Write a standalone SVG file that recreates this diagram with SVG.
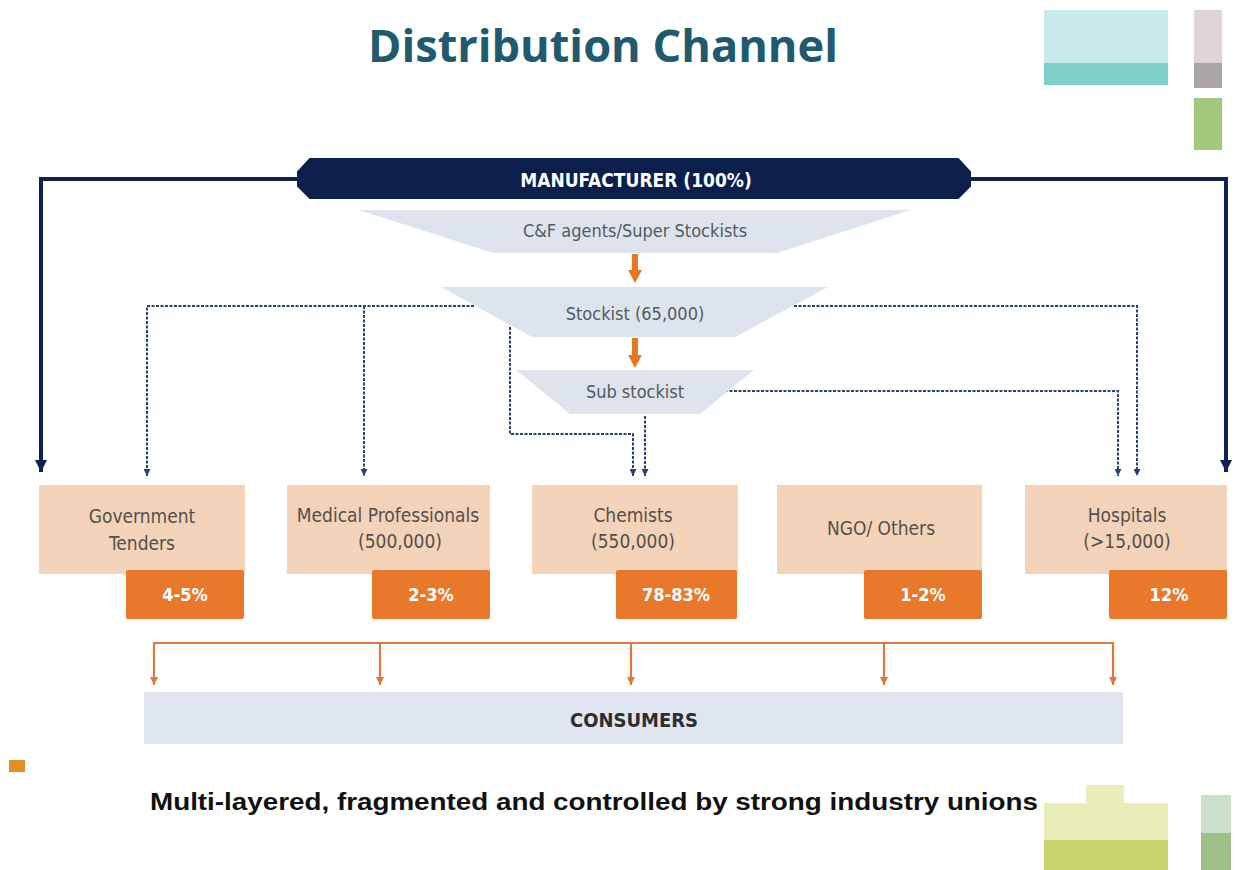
<svg xmlns="http://www.w3.org/2000/svg" width="1235" height="870" viewBox="0 0 1235 870">
  <style>
    .narrow { font-family: "Liberation Sans Narrow", "DejaVu Sans Condensed", "Liberation Sans", sans-serif; }
    .title { font-family: "Open Sans", "Noto Sans", sans-serif; font-weight: bold; font-size: 44px; fill: #1f5a6e; }
    .funnel { fill: #dee4ee; }
    .funnel-text { font-size: 18px; fill: #555a60; text-anchor: middle; }
    .box { fill: #f3d3b9; }
    .box-text { font-size: 19px; fill: #55504c; text-anchor: middle; }
    .pct { fill: #e8782a; }
    .pct-text { font-size: 18px; font-weight: bold; fill: #ffffff; text-anchor: middle; }
    .thick { fill: none; stroke: #0e2150; stroke-width: 4; }
    .dotted { fill: none; stroke: #2b4170; stroke-width: 2; stroke-dasharray: 3 1.5; }
    .flow { fill: #e87722; }
    .consume { fill: none; stroke: #dc7a3c; stroke-width: 2.2; }
  </style>
  <defs>
    <marker id="navyHead" viewBox="0 0 10 10" refX="10" refY="5" markerWidth="13" markerHeight="12" markerUnits="userSpaceOnUse" orient="auto">
      <path d="M0,0 L10,5 L0,10 Z" fill="#0e2150"/>
    </marker>
    <marker id="dotHead" viewBox="0 0 10 10" refX="10" refY="5" markerWidth="7" markerHeight="7" markerUnits="userSpaceOnUse" orient="auto">
      <path d="M0,0 L10,5 L0,10 Z" fill="#2b4170"/>
    </marker>
    <marker id="consHead" viewBox="0 0 10 10" refX="10" refY="5" markerWidth="8" markerHeight="8" markerUnits="userSpaceOnUse" orient="auto">
      <path d="M0,0 L10,5 L0,10 Z" fill="#dc7a3c"/>
    </marker>
  </defs>

  <rect width="1235" height="870" fill="#ffffff"/>

  <!-- corner decorations -->
  <g id="decor">
    <rect x="1044" y="10" width="124" height="54" fill="#c8ebea"/>
    <rect x="1044" y="63" width="124" height="22" fill="#7fcfcb"/>
    <rect x="1194" y="10" width="28" height="54" fill="#ddd5d8"/>
    <rect x="1194" y="63" width="28" height="25" fill="#aba5a5"/>
    <rect x="1194" y="98" width="28" height="52" fill="#a2c77d"/>
    <rect x="9" y="760" width="16" height="12" fill="#e0902a"/>
    <rect x="1044" y="803" width="124" height="40" fill="#e7ecb8"/>
    <rect x="1086" y="785" width="38" height="20" fill="#e9eebb"/>
    <rect x="1044" y="840" width="124" height="30" fill="#c7d46c"/>
    <rect x="1201" y="795" width="30" height="39" fill="#ccdfcb"/>
    <rect x="1201" y="833" width="30" height="37" fill="#9fc087"/>
  </g>

  <text id="title" class="title" x="603" y="62" text-anchor="middle" textLength="470" lengthAdjust="spacingAndGlyphs">Distribution Channel</text>

  <!-- connectors -->
  <g id="connectors">
    <path class="thick" d="M300,179 H41 V472" marker-end="url(#navyHead)"/>
    <path class="thick" d="M968,179 H1226 V472" marker-end="url(#navyHead)"/>

    <path class="dotted" d="M474,306 H147 V476" marker-end="url(#dotHead)"/>
    <path class="dotted" d="M364,306 V476" marker-end="url(#dotHead)"/>
    <path class="dotted" d="M794,306 H1137 V476" marker-end="url(#dotHead)"/>
    <path class="dotted" d="M725,391 H1118 V476" marker-end="url(#dotHead)"/>
    <path class="dotted" d="M510,327 V434 H633 V476" marker-end="url(#dotHead)"/>
    <path class="dotted" d="M645,416 V476" marker-end="url(#dotHead)"/>

    <!-- block arrows between funnel levels -->
    <polygon class="flow" points="632,254 638,254 638,270 642,270 635,283 628,270 632,270"/>
    <polygon class="flow" points="632,338 638,338 638,355 642,355 635,368 628,355 632,355"/>

    <path class="consume" d="M154,643 H1113"/>
    <path class="consume" d="M154,642 V685" marker-end="url(#consHead)"/>
    <path class="consume" d="M380,643 V685" marker-end="url(#consHead)"/>
    <path class="consume" d="M631,643 V685" marker-end="url(#consHead)"/>
    <path class="consume" d="M884,643 V685" marker-end="url(#consHead)"/>
    <path class="consume" d="M1113,642 V685" marker-end="url(#consHead)"/>
  </g>

  <g id="manufacturer">
    <path d="M310,159 H958 L970,172 V186 L958,198 H310 L298,186 V172 Z" fill="#0c1e4b" stroke="#0c1e4b" stroke-width="2" stroke-linejoin="round"/>
    <text class="narrow" x="636" y="187" text-anchor="middle" font-size="19" font-weight="bold" fill="#ffffff">MANUFACTURER (100%)</text>
  </g>

  <g id="cf-agents">
    <polygon class="funnel" points="359,210 911,210 777,253 493,253"/>
    <text class="narrow funnel-text" x="635" y="237">C&amp;F agents/Super Stockists</text>
  </g>

  <g id="stockist">
    <polygon class="funnel" points="441,287 828,287 735,337 532,337"/>
    <text class="narrow funnel-text" x="635" y="320">Stockist (65,000)</text>
  </g>

  <g id="sub-stockist">
    <polygon class="funnel" points="516,370 754,370 700,414 570,414"/>
    <text class="narrow funnel-text" x="635" y="398">Sub stockist</text>
  </g>

  <g id="government">
    <rect class="box" x="39" y="485" width="206" height="89"/>
    <text class="narrow box-text" x="142" y="523">Government</text>
    <text class="narrow box-text" x="142" y="550">Tenders</text>
    <rect class="pct" x="126" y="570" width="118" height="49" rx="2"/>
    <text class="narrow pct-text" x="185" y="601">4-5%</text>
  </g>

  <g id="medical">
    <rect class="box" x="287" y="485" width="203" height="89"/>
    <text class="narrow box-text" x="388" y="522">Medical Professionals</text>
    <text class="narrow box-text" x="400" y="548">(500,000)</text>
    <rect class="pct" x="372" y="570" width="118" height="49" rx="2"/>
    <text class="narrow pct-text" x="431" y="601">2-3%</text>
  </g>

  <g id="chemists">
    <rect class="box" x="532" y="485" width="206" height="89"/>
    <text class="narrow box-text" x="633" y="522">Chemists</text>
    <text class="narrow box-text" x="633" y="548">(550,000)</text>
    <rect class="pct" x="616" y="570" width="121" height="49" rx="2"/>
    <text class="narrow pct-text" x="676" y="601">78-83%</text>
  </g>

  <g id="ngo">
    <rect class="box" x="777" y="485" width="205" height="89"/>
    <text class="narrow box-text" x="881" y="535">NGO/ Others</text>
    <rect class="pct" x="864" y="570" width="118" height="49" rx="2"/>
    <text class="narrow pct-text" x="923" y="601">1-2%</text>
  </g>

  <g id="hospitals">
    <rect class="box" x="1025" y="485" width="202" height="89"/>
    <text class="narrow box-text" x="1127" y="522">Hospitals</text>
    <text class="narrow box-text" x="1127" y="548">(&gt;15,000)</text>
    <rect class="pct" x="1109" y="570" width="118" height="49" rx="2"/>
    <text class="narrow pct-text" x="1169" y="601">12%</text>
  </g>

  <g id="consumers">
    <rect x="144" y="692" width="979" height="52" fill="#e0e6f0"/>
    <text class="narrow" x="634" y="727" text-anchor="middle" font-size="20" font-weight="bold" fill="#2e2e2e">CONSUMERS</text>
  </g>

  <text id="caption" x="150" y="810" font-family="Liberation Sans, Arial, sans-serif" font-size="23" font-weight="bold" fill="#111111" textLength="888" lengthAdjust="spacingAndGlyphs">Multi-layered, fragmented and controlled by strong industry unions</text>
</svg>
